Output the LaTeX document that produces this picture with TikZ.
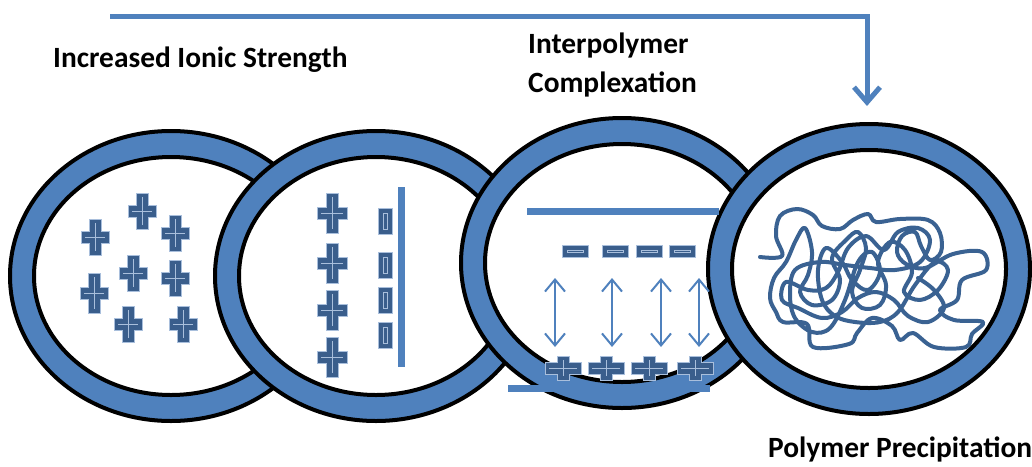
\documentclass[tikz,border=0pt]{standalone}
\usepackage{fontspec}
\setmainfont{Carlito}
\usetikzlibrary{arrows.meta}

\definecolor{ringblue}{HTML}{4F81BD}
\definecolor{iondark}{HTML}{3A5E8C}
\definecolor{ionedge}{HTML}{A9BFDC}
\definecolor{coilblue}{HTML}{3A6292}

% one cell: blue band with black rims, white inside
\newcommand{\cellring}[2]{%
  \draw[band] (#1,#2) ellipse [x radius=161, y radius=145];
  \draw[core] (#1,#2) ellipse [x radius=137, y radius=119];}

% plus ion: centre x, centre y, half width, half height
\newcommand{\cation}[4]{%
  \begin{scope}[shift={(#1,#2)}]
    \filldraw[ion] (-6,-#4) -- (6,-#4) -- (6,-6) -- (#3,-6) -- (#3,6) -- (6,6)
      -- (6,#4) -- (-6,#4) -- (-6,6) -- (-#3,6) -- (-#3,-6) -- (-6,-6) -- cycle;
    \draw[ionmark] (0,-#4+4) -- (0,#4-4) (-#3+4,0) -- (#3-4,0);
  \end{scope}}

% minus ion: centre x, centre y, half width, half height
\newcommand{\anion}[4]{%
  \begin{scope}[shift={(#1,#2)}]
    \filldraw[ion] (-#3,-#4) rectangle (#3,#4);
    \draw[ionmark] (-#3+5,-#4+5) rectangle (#3-5,#4-5);
  \end{scope}}

\begin{document}
\begin{tikzpicture}[x=1pt,y=-1pt,
  band/.style={fill=ringblue, draw=black, line width=4pt},
  core/.style={fill=white, draw=black, line width=4pt},
  ion/.style={fill=iondark, draw=ionedge, line width=0.8pt},
  ionmark/.style={draw=ionedge, line width=1pt},
  plate/.style={draw=ringblue, line width=7pt},
  pull/.style={draw=ringblue, line width=2pt,
    {Straight Barb[length=12pt,width=20pt]}-{Straight Barb[length=12pt,width=20pt]}},
  feed/.style={draw=ringblue, line width=5pt, line join=miter,
    -{Straight Barb[length=15pt,width=26pt]}},
  caption/.style={font=\fontsize{29.4}{39}\selectfont\bfseries, inner sep=0pt}]
\useasboundingbox (0,0) rectangle (1032,466);

% the four cells, left to right
\cellring{171}{276}
\cellring{376}{276}
\cellring{622}{263}
\cellring{869}{269}

% cell 1: free cations
\foreach \x/\y/\h in {142/211/18, 95/237/18, 175/233/18, 133/273/18,
                      175/278/18, 94/293/20, 128/324/18, 183/324/18}
  \cation{\x}{\y}{14}{\h};

% cell 2: cations lined up against a charged wall
\foreach \y in {213,263,310,357}
  \cation{332}{\y}{15}{20};
\foreach \y in {221,265,300,335}
  \anion{385}{\y}{7}{13};
\draw[plate] (401,187) -- (401,367);

% cell 3: two chains pulled together
\draw[plate] (527,211) -- (719,211);
\foreach \x in {575,615,649,682}
  \anion{\x}{251}{13}{6};
\foreach \x [count=\i] in {555,612,661,699} {
  \coordinate (top\i) at (\x,278);
  \coordinate (bot\i) at (\x,347);
  \draw[pull] (top\i) -- (bot\i);
}
\foreach \x in {563,606,649,695}
  \cation{\x}{368}{18}{12};
\draw[plate] (508,388) -- (710,388);

% cell 4: collapsed coil
\draw[coilblue, line width=4pt, line join=round, line cap=round]
  plot[smooth, tension=0.6] coordinates {
  (760,257) (782,256) (776,236) (780,216) (797,209) (813,215) (822,226)
  (840,229) (853,220) (868,214) (876,222) (900,219) (928,220) (940,233)
  (941,252) (930,260) (921,246) (915,232) (902,236) (897,252) (906,264)
  (925,268) (953,254) (982,252) (986,270) (962,280) (957,300) (940,310)
  (954,320) (983,322) (972,334) (966,347) (934,347) (913,333) (900,340)
  (892,326) (872,318) (857,333) (849,344) (813,347) (807,324) (783,322)
  (776,312) (770,298) (774,278) (786,262) (796,240) (805,228) (812,252)
  (808,275) (800,292) (812,305) (832,300) (840,280) (832,258) (846,240)
  (858,232) (866,248) (860,270) (852,292) (862,308) (880,305) (886,285)
  (878,262) (890,242) (905,250) (912,272) (904,292) (920,300) (938,290)
  (948,270) (935,262) (915,285) (898,312) (880,322) (855,322) (835,316)
  (822,300) (818,270) (826,248) (842,262) (852,280) (868,290) (880,272)
  (872,252) (858,262) (845,300) (830,328) (812,332) (795,318) (790,295)
  (795,270) (820,262) (845,265) (870,268) (895,270) (920,262) (930,240)
  (918,228) (898,232) (884,250) (866,236) (848,248) (838,272) (826,288)
  (808,290) (786,282) (782,300) (798,308) (822,318) (842,312) (858,298)
  (876,292) (894,300) (908,316) (928,322) (944,308) (934,290) (918,278)};

% labels
\node[caption, anchor=base west] (salt) at (53,67) {Increased Ionic Strength};
\node[caption, anchor=base west, align=left] (complex) at (528,92)
  {Interpolymer\\Complexation};
\node[caption, anchor=base west] (precip) at (768,457) {Polymer Precipitation};

% route from the first step straight to the precipitate
\coordinate (start) at (110,16);
\coordinate (drop) at (867,106);
\draw[feed] (start) -| (drop);

\end{tikzpicture}
\end{document}
